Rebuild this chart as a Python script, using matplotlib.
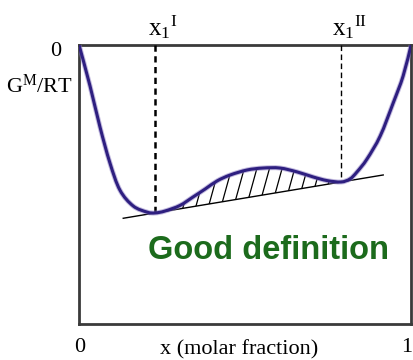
import numpy as np
import matplotlib
matplotlib.use("Agg")
import matplotlib.pyplot as plt
from matplotlib.path import Path
from matplotlib.patches import PathPatch

plt.rcParams["font.family"] = ["Liberation Serif", "DejaVu Serif"]
plt.rcParams["mathtext.fontset"] = "custom"
plt.rcParams["mathtext.rm"] = "Liberation Serif"
plt.rcParams["mathtext.it"] = "Liberation Serif:italic"

# Mixing free energy G^M/RT versus molar fraction x
x_curve = [0.000, 0.033, 0.063, 0.093, 0.123, 0.163, 0.205, 0.229, 0.259,
           0.304, 0.343, 0.380, 0.416, 0.455, 0.506, 0.554, 0.605, 0.657,
           0.705, 0.747, 0.789, 0.816, 0.837, 0.867, 0.907, 0.946, 0.976,
           1.000]
g_curve = [0.000, -0.147, -0.294, -0.423, -0.520, -0.577, -0.599, -0.602,
           -0.595, -0.575, -0.545, -0.516, -0.487, -0.466, -0.448, -0.441,
           -0.441, -0.455, -0.473, -0.486, -0.491, -0.480, -0.455, -0.409,
           -0.326, -0.208, -0.111, 0.000]

# Common tangent points (phase compositions x1^I and x1^II)
x_tangent = [0.229, 0.789]
g_tangent = [-0.602, -0.491]
tangent_span = [0.133, 0.916]


def smooth_path(xs, ys):
    """Catmull-Rom curve through the points, as a cubic Bezier path."""
    pts = np.column_stack([xs, ys])
    verts = [pts[0]]
    codes = [Path.MOVETO]
    n = len(pts)
    for i in range(n - 1):
        p0 = pts[i - 1] if i > 0 else pts[i]
        p1 = pts[i]
        p2 = pts[i + 1]
        p3 = pts[i + 2] if i + 2 < n else pts[i + 1]
        c1 = p1 + (p2 - p0) / 6.0
        c2 = p2 - (p3 - p1) / 6.0
        verts += [c1, c2, p2]
        codes += [Path.CURVE4] * 3
    return Path(verts, codes)


fig = plt.figure(figsize=(4.14, 3.60), dpi=100)
ax = fig.add_axes([0.191, 0.100, 0.802, 0.775])
ax.set_xlim(0, 1)
ax.set_ylim(-1, 0)
ax.set_xticks([])
ax.set_yticks([])
for s in ax.spines.values():
    s.set_linewidth(2.0)
    s.set_color("#3a3a3a")

slope = (g_tangent[1] - g_tangent[0]) / (x_tangent[1] - x_tangent[0])
t_y = [g_tangent[0] + slope * (t - x_tangent[0]) for t in tangent_span]
ax.plot(tangent_span, t_y, color="black", lw=1.0, zorder=3)

# Hatched region between curve and tangent line
i1 = x_curve.index(x_tangent[0])
i2 = x_curve.index(x_tangent[1])
arc = smooth_path(x_curve[i1:i2 + 1], g_curve[i1:i2 + 1])
region = Path(list(arc.vertices) + [arc.vertices[0], arc.vertices[0]],
              list(arc.codes) + [Path.LINETO, Path.CLOSEPOLY])
clip = PathPatch(region, facecolor="none", edgecolor="none", transform=ax.transData)
ax.add_patch(clip)
for x0 in np.arange(0.16, 0.85, 0.038):
    ln, = ax.plot([x0, x0 + 0.10], [-0.75, -0.32], color="black", lw=0.9, zorder=2)
    ln.set_clip_path(clip)

# Free energy curve
curve = smooth_path(x_curve, g_curve)
ax.add_patch(PathPatch(curve, facecolor="none", edgecolor="#8878c0", lw=3.6,
                       alpha=0.5, zorder=4, capstyle="round"))
ax.add_patch(PathPatch(curve, facecolor="none", edgecolor="#2e1f80", lw=2.2,
                       zorder=5, capstyle="round"))

# Dashed composition markers
ax.plot([x_tangent[0], x_tangent[0]], [0, g_tangent[0]], color="black",
        lw=1.8, ls=(0, (2.5, 1.8)), zorder=3)
ax.plot([x_tangent[1], x_tangent[1]], [0, g_tangent[1]], color="black",
        lw=1.0, ls=(0, (4, 2.5)), zorder=3)

ax.text(0.572, -0.738, "Good definition", family=["Liberation Sans", "DejaVu Sans"],
        fontweight="bold", fontsize=23.5, color="#1c6b1c", ha="center", va="center")

fig.text(56 / 414, 1 - 51 / 360, "0", fontsize=16, ha="center", va="center")
fig.text(39 / 414, 1 - 86 / 360, r"G$^{\mathrm{M}}$/RT", fontsize=16, ha="center", va="center")
fig.text(163 / 414, 1 - 27 / 360, r"x$_1$$^{\mathrm{I}}$", fontsize=18, ha="center", va="center")
fig.text(349 / 414, 1 - 27 / 360, r"x$_1$$^{\mathrm{II}}$", fontsize=18, ha="center", va="center")
fig.text(80 / 414, 1 - 348 / 360, "0", fontsize=16, ha="center", va="center")
fig.text(239 / 414, 1 - 350 / 360, "x (molar fraction)", fontsize=16, ha="center", va="center")
fig.text(407 / 414, 1 - 348 / 360, "1", fontsize=16, ha="center", va="center")

fig.savefig("out.png", dpi=100)
